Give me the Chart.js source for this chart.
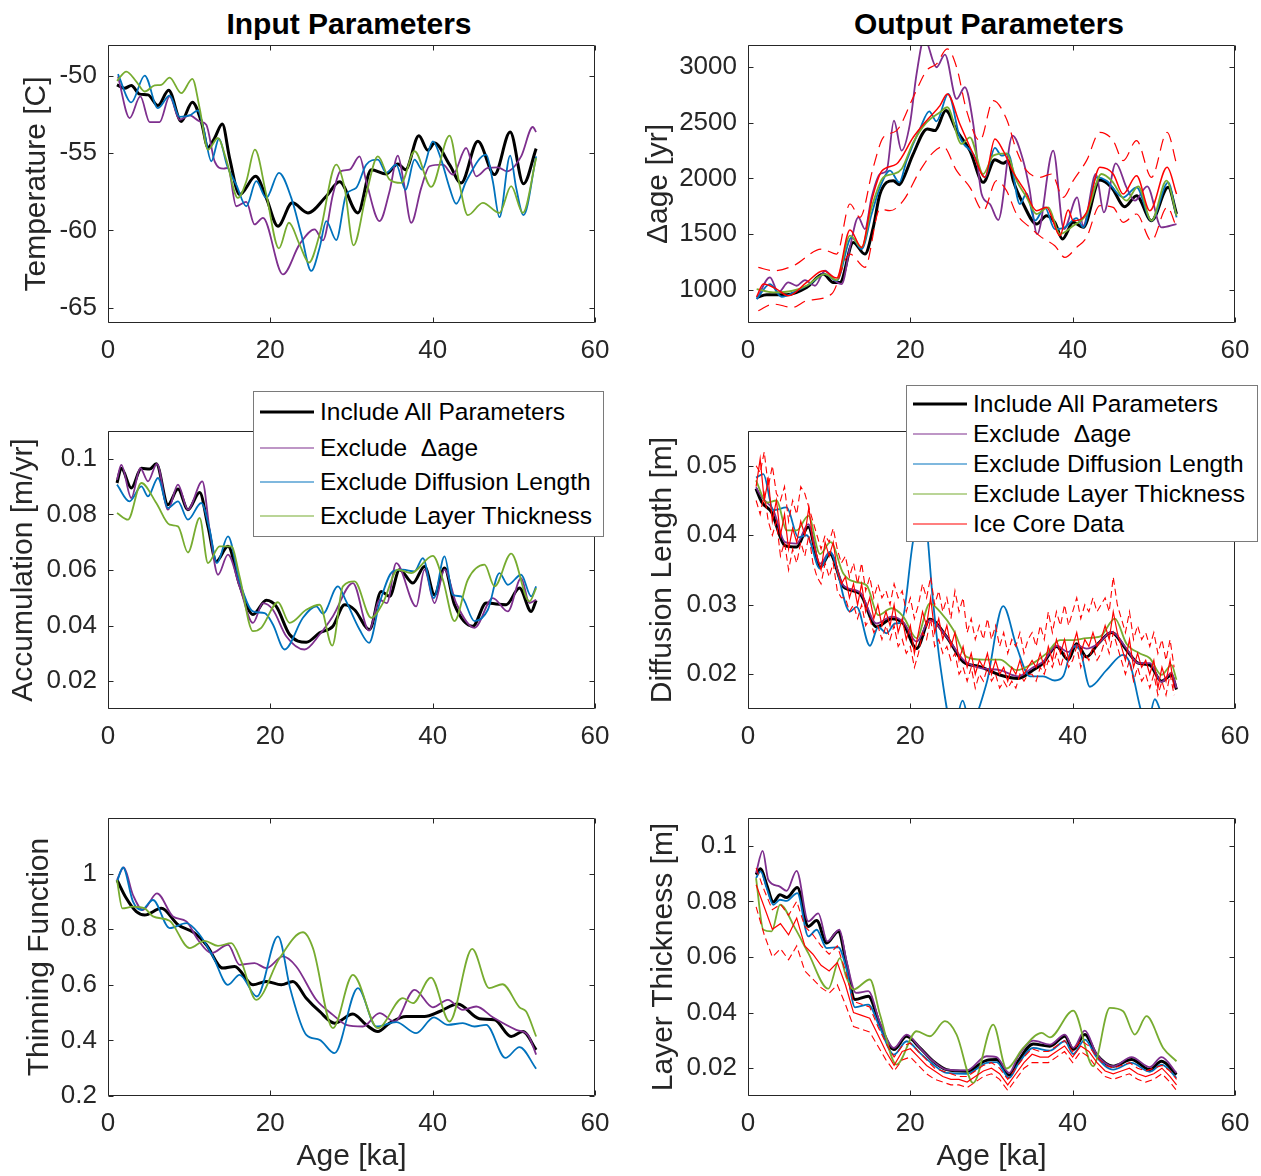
<!DOCTYPE html>
<html>
<head>
<meta charset="utf-8">
<script src="https://cdn.jsdelivr.net/npm/chart.js@4.4.1/dist/chart.umd.min.js"></script>
<style>
  html, body { margin: 0; padding: 0; background: #fff; }
  #fig { position: relative; width: 1261px; height: 1176px; overflow: hidden;
         font-family: 'Liberation Sans', Arial, Helvetica, sans-serif; color: #000; }
  #fig canvas { position: absolute; }
  .ttl { position: absolute; top: 9px; font-weight: bold; font-size: 30px; line-height: 30px;
         white-space: nowrap; transform: translateX(-50%); }
  .leg { position: absolute; background: #fff; border: 1px solid #7a7a7a; box-sizing: border-box; z-index: 5; }
  .row { position: absolute; left: 0; right: 0; height: 30px; line-height: 30px; font-size: 24.5px; white-space: pre; }
  .row b { position: absolute; left: 6px; width: 54px; top: 15px; height: 0; border-top-style: solid; transform: translateY(-50%); }
  .row span { position: absolute; left: 66px; top: 0; }
</style>
</head>
<body>
<div id="fig">
  <div class="ttl" style="left:349px">Input Parameters</div>
  <div class="ttl" style="left:989px">Output Parameters</div>
</div>
<script>
// ---------- axis ticks ----------
const xTicks = [0, 20, 40, 60];
const tempTicks = [-65, -60, -55, -50];
const dageTicks = [1000, 1500, 2000, 2500, 3000];
const accTicks = [0.02, 0.04, 0.06, 0.08, 0.1];
const diffTicks = [0.02, 0.03, 0.04, 0.05];
const thinTicks = [0.2, 0.4, 0.6, 0.8, 1];
const layerTicks = [0.02, 0.04, 0.06, 0.08, 0.1];

const seriesNames = ['Include All Parameters', 'Exclude  \u0394age', 'Exclude Diffusion Length',
                     'Exclude Layer Thickness', 'Ice Core Data'];

// ---------- temperature [C] vs age [ka] ----------
const tempAll = [[1.1,-50.58],[2.05,-50.8],[2.87,-50.62],[3.9,-51.18],[4.93,-51.23],[6.16,-51.92],[7.47,-50.93],[9.03,-52.95],[10.39,-51.7],[11.49,-52.95],[12.32,-54.63],[13.14,-54.02],[14.08,-53.12],[14.98,-55.32],[16.21,-57.68],[18.19,-56.5],[19.5,-57.9],[20.94,-59.73],[22.7,-58.22],[24.63,-58.87],[26.89,-57.79],[28.53,-56.86],[30.79,-58.87],[32.43,-56.07],[34.28,-56.35],[35.71,-55.7],[36.66,-56.07],[38.3,-53.87],[39.41,-54.82],[40.23,-54.35],[42.08,-55.75],[43.51,-56.93],[45.57,-54.24],[47.62,-56.39],[49.55,-53.64],[51.19,-56.99],[52.75,-54.71]];
const tempNoDage = [[1.23,-50.04],[2.67,-52.73],[3.98,-51.33],[5.13,-52.99],[6.36,-52.99],[7.59,-51.33],[8.83,-52.84],[10.06,-52.56],[11.29,-52.95],[12.11,-53.16],[13.14,-55.53],[14.24,-56.0],[14.78,-55.96],[15.8,-58.44],[17.04,-58.16],[18.06,-59.62],[19.09,-59.19],[21.55,-62.85],[23.6,-60.91],[25.45,-59.94],[26.48,-60.65],[27.71,-57.68],[28.61,-56.18],[29.76,-56.07],[30.99,-55.21],[31.81,-56.82],[33.46,-59.4],[34.69,-57.47],[35.71,-55.16],[36.41,-56.82],[37.36,-59.51],[38.59,-57.25],[39.61,-55.85],[41.26,-55.75],[42.49,-56.39],[44.13,-54.67],[45.36,-56.5],[46.8,-55.96],[48.03,-55.92],[49.14,-56.18],[50.9,-55.21],[52.34,-53.31],[52.75,-53.64]];
const tempNoDiff = [[1.23,-49.89],[2.87,-51.72],[4.52,-49.98],[6.16,-52.09],[7.59,-51.27],[8.83,-52.65],[10.06,-52.56],[11.08,-52.24],[11.78,-53.42],[12.73,-55.53],[13.67,-54.07],[14.66,-55.79],[15.8,-57.04],[17.04,-58.44],[18.27,-56.82],[19.5,-57.9],[21.06,-56.28],[22.58,-57.9],[23.81,-60.26],[25.04,-62.63],[26.07,-61.13],[26.89,-59.4],[28.12,-60.63],[29.35,-57.68],[30.58,-57.25],[31.81,-55.75],[33.25,-55.42],[34.28,-56.28],[35.51,-55.75],[36.66,-57.38],[37.77,-55.42],[38.71,-56.07],[40.02,-54.24],[41.05,-55.42],[42.08,-57.25],[42.9,-58.28],[44.13,-56.82],[46.59,-55.1],[47.41,-56.82],[48.23,-59.15],[49.55,-55.16],[50.29,-57.25],[51.19,-59.02],[52.75,-55.21]];
const tempNoLayer = [[1.11,-50.32],[2.26,-49.72],[3.49,-50.37],[4.52,-51.01],[5.75,-50.62],[6.57,-50.58],[7.59,-50.11],[9.03,-51.12],[10.39,-50.19],[11.29,-52.09],[12.32,-54.78],[13.55,-54.02],[14.57,-55.42],[16.01,-57.9],[17.04,-56.82],[18.1,-54.78],[19.5,-57.68],[21.06,-61.17],[22.29,-59.51],[23.6,-60.91],[24.75,-62.09],[26.07,-60.26],[28.12,-55.75],[29.15,-57.25],[30.25,-60.97],[31.81,-57.68],[33.25,-55.21],[34.69,-56.71],[36.12,-56.93],[37.77,-54.88],[39.82,-57.19],[42.08,-53.87],[43.31,-57.04],[44.33,-59.02],[46.18,-58.22],[48.23,-58.87],[49.67,-57.14],[51.11,-58.87],[52.75,-55.32]];

// ---------- delta age [yr] ----------
const dageAll = [[1.07,930],[2.3,954],[4.76,954],[7.22,1020],[9.28,1140],[10.5,1065],[11.33,1065],[12.97,1425],[14.4,1320],[15.43,1560],[16.26,1860],[17.9,1980],[18.64,1944],[19.2,2010],[20.36,2220],[22.09,2445],[23.03,2430],[24.38,2610],[25.7,2430],[27.34,2250],[28.98,1965],[30.42,2169],[31.44,2136],[32.06,2160],[32.68,1980],[33.91,1770],[35.55,1590],[36.78,1665],[37.8,1605],[38.75,1455],[40.07,1605],[41.3,1560],[43.35,1986],[44.79,1920],[46.43,1746],[47.87,1845],[49.71,1620],[51.77,1920],[52.8,1680]];
const dageNoDage = [[1.07,915],[2.71,1110],[3.73,975],[4.97,1065],[5.99,1035],[7.02,1086],[8.25,1035],[9.48,1170],[10.71,1080],[11.54,1050],[12.56,1380],[13.59,1650],[14.41,1545],[15.23,1830],[16.26,2040],[17.08,2070],[17.98,2520],[18.92,2250],[19.95,2490],[20.77,2940],[21.72,3260],[23.23,3000],[24.26,3114],[25.7,2715],[26.72,2820],[27.75,2490],[28.78,1860],[29.8,1770],[30.83,1626],[32.59,2385],[33.91,2160],[34.65,1920],[35.63,1500],[37.6,2250],[38.92,1545],[40.56,1830],[41.3,1575],[42.86,2040],[43.84,1695],[45.32,2136],[46.63,1920],[47.66,1800],[49.18,1929],[50.94,1560],[52.79,1590]];
const dageNoDiff = [[1.07,915],[2.71,1050],[4.15,936],[5.99,990],[7.63,1050],[9.48,1140],[10.92,1080],[12.77,1470],[14.0,1365],[15.23,1680],[16.26,1920],[17.49,2070],[18.64,1965],[19.54,2160],[21.18,2445],[22.33,2604],[23.23,2514],[24.67,2760],[26.1,2370],[27.75,2220],[29.19,2010],[30.42,2274],[31.24,2205],[32.06,2220],[33.5,1770],[34.33,1866],[35.35,1620],[36.58,1740],[37.8,1545],[39.04,1560],[40.48,1644],[41.3,1560],[42.94,2010],[44.17,1980],[46.22,1830],[47.87,1920],[49.71,1620],[51.77,1965],[52.8,1650]];
const dageNoLayer = [[1.07,1005],[3.12,975],[5.5,990],[7.22,1035],[9.48,1140],[10.92,1086],[12.56,1485],[14.0,1380],[15.23,1740],[16.67,2010],[17.9,2040],[18.92,2085],[20.36,2325],[22.0,2505],[23.65,2595],[24.55,2640],[26.31,2310],[27.34,2370],[28.98,2040],[30.21,2205],[31.85,2226],[33.09,1980],[34.33,1830],[35.55,1680],[36.99,1740],[38.43,1500],[40.07,1575],[41.71,1680],[43.56,2040],[44.79,1980],[46.63,1800],[48.07,1929],[49.71,1620],[51.56,1980],[52.8,1665]];
const dageCore = [[1.07,936],[1.89,1050],[3.53,1005],[4.97,945],[7.22,1065],[9.28,1170],[10.92,1104],[12.56,1536],[14.0,1380],[15.23,1800],[16.46,2064],[18.3,2130],[20.36,2370],[22.0,2520],[23.65,2655],[24.55,2760],[26.1,2490],[27.75,2220],[29.19,2010],[30.42,2355],[31.44,2250],[32.68,2055],[34.11,1890],[35.55,1710],[36.78,1740],[38.43,1485],[39.45,1716],[40.07,1620],[41.71,1695],[43.35,2100],[44.99,2040],[46.22,1860],[47.87,2025],[49.51,1710],[51.64,2100],[52.8,1860]];
const dageCoreHi = [[1.27,1200],[3.12,1170],[5.58,1215],[9.07,1365],[10.92,1320],[12.56,1770],[13.79,1650],[15.43,2100],[16.67,2370],[18.3,2430],[20.36,2730],[22.0,2970],[23.23,3030],[24.55,3165],[25.7,3000],[26.93,2610],[28.57,2340],[30.21,2700],[31.85,2535],[33.09,2250],[34.33,2070],[35.96,2010],[37.4,2040],[38.83,1830],[40.07,1980],[41.71,2160],[43.35,2415],[44.99,2340],[46.22,2160],[47.87,2340],[49.71,2010],[51.64,2415],[52.8,2130]];
const dageCoreLo = [[1.27,810],[3.12,870],[5.5,840],[7.22,900],[10.3,960],[12.56,1320],[14.41,1200],[16.26,1725],[17.49,1710],[19.13,1800],[21.18,2070],[22.82,2235],[24.06,2286],[25.7,2070],[27.34,1920],[28.98,1710],[30.62,1980],[31.85,1890],[33.09,1680],[34.73,1560],[36.17,1470],[37.8,1395],[39.04,1290],[40.48,1380],[41.71,1470],[43.35,1755],[44.99,1740],[46.22,1605],[47.87,1680],[49.71,1440],[51.64,1740],[52.8,1560]];

// ---------- accumulation [m/yr] ----------
const accAll = [[1.11,0.0913],[1.64,0.0966],[2.87,0.0895],[4.11,0.0966],[5.13,0.0963],[5.95,0.0982],[7.39,0.0835],[8.62,0.0891],[9.85,0.0817],[11.29,0.0879],[12.32,0.0757],[13.34,0.0631],[14.78,0.0685],[16.21,0.0547],[17.86,0.044],[19.5,0.0491],[20.73,0.0469],[22.37,0.0368],[24.43,0.034],[26.07,0.0374],[27.71,0.0398],[29.15,0.0475],[30.37,0.0457],[32.22,0.0386],[33.66,0.0523],[34.69,0.0505],[35.92,0.0601],[37.57,0.0553],[39.0,0.0613],[40.23,0.0511],[41.46,0.0607],[42.69,0.0475],[44.95,0.0398],[46.59,0.0481],[49.06,0.0475],[50.7,0.0535],[52.14,0.0451],[52.75,0.0491]];
const accNoDage = [[1.11,0.0925],[1.64,0.0978],[2.87,0.0859],[3.98,0.0966],[4.93,0.0919],[6.03,0.0982],[7.39,0.0817],[8.62,0.0907],[9.85,0.0817],[11.62,0.0919],[12.52,0.0745],[13.55,0.0583],[14.78,0.0655],[16.21,0.0541],[17.86,0.041],[19.09,0.0481],[20.32,0.0457],[21.96,0.0362],[24.22,0.0314],[26.07,0.0368],[27.71,0.0434],[30.17,0.0553],[32.17,0.0382],[33.46,0.0493],[34.36,0.0481],[35.51,0.0625],[37.97,0.0469],[39.0,0.0601],[40.23,0.0481],[41.46,0.0601],[42.9,0.0481],[45.16,0.0392],[47.41,0.0499],[49.26,0.0451],[50.9,0.0571],[51.93,0.0481],[52.75,0.0493]];
const accNoDiff = [[1.11,0.0907],[2.64,0.0847],[4.11,0.0901],[4.93,0.0865],[6.16,0.0931],[7.39,0.0823],[8.62,0.0847],[9.85,0.0781],[11.49,0.0841],[12.52,0.0745],[13.42,0.0625],[14.78,0.0721],[16.21,0.0559],[17.86,0.0451],[19.3,0.0445],[20.32,0.0404],[21.76,0.0314],[24.02,0.0428],[25.66,0.0469],[26.48,0.0443],[28.32,0.0541],[29.35,0.0487],[30.99,0.0386],[32.17,0.0338],[33.46,0.0481],[35.1,0.0595],[36.33,0.0601],[37.77,0.0595],[38.79,0.0643],[40.14,0.0499],[41.46,0.0649],[42.49,0.0511],[43.51,0.0505],[45.16,0.0416],[46.8,0.0457],[48.23,0.0589],[49.26,0.0547],[50.9,0.0583],[52.14,0.0505],[52.75,0.0541]];
const accNoLayer = [[1.11,0.0805],[2.46,0.0781],[4.11,0.0913],[5.95,0.0841],[7.59,0.0763],[8.62,0.0757],[9.85,0.0663],[11.29,0.0787],[12.32,0.0625],[13.75,0.0685],[15.19,0.0685],[16.21,0.0577],[17.86,0.038],[18.88,0.0392],[20.94,0.0484],[22.37,0.041],[24.43,0.0457],[26.07,0.0475],[27.63,0.0328],[28.94,0.0541],[30.37,0.0559],[32.43,0.0428],[33.87,0.0481],[35.71,0.0601],[37.36,0.0589],[40.02,0.0651],[41.26,0.0565],[42.69,0.0416],[44.33,0.0565],[46.39,0.0619],[47.62,0.0541],[49.67,0.0659],[51.93,0.0487],[52.75,0.0535]];

// ---------- diffusion length [m] ----------
const diffAll = [[0.99,0.0467],[1.68,0.0448],[2.9,0.0433],[4.56,0.0385],[5.99,0.0383],[7.43,0.0412],[8.87,0.0354],[10.1,0.0373],[11.74,0.0326],[13.79,0.0316],[15.84,0.0268],[17.69,0.028],[19.13,0.0273],[20.77,0.0237],[22.41,0.0279],[24.47,0.0254],[26.52,0.0218],[28.57,0.0211],[31.03,0.0199],[33.29,0.0194],[35.14,0.0206],[36.36,0.0216],[38.01,0.024],[39.45,0.0221],[40.48,0.0244],[41.71,0.0225],[43.14,0.0244],[44.79,0.026],[46.63,0.0235],[48.07,0.0216],[49.51,0.0213],[50.94,0.019],[52.18,0.0199],[52.79,0.0178]];
const diffNoDage = [[0.99,0.0469],[1.68,0.0455],[3.12,0.0436],[4.56,0.039],[5.99,0.0388],[7.43,0.0416],[8.87,0.0359],[10.1,0.0376],[11.74,0.0328],[13.79,0.0318],[15.84,0.0273],[17.69,0.0283],[19.13,0.0275],[20.77,0.0247],[22.41,0.0278],[24.47,0.0254],[26.52,0.0221],[28.57,0.0209],[31.03,0.0206],[33.29,0.0197],[35.14,0.021],[36.36,0.0218],[38.01,0.0241],[39.45,0.0232],[40.48,0.0242],[41.71,0.0237],[43.14,0.0244],[44.79,0.0261],[46.63,0.0237],[48.07,0.0216],[49.51,0.0216],[50.94,0.0189],[52.18,0.0202],[52.79,0.018]];
const diffNoDiff = [[0.99,0.0483],[1.89,0.0488],[3.12,0.0436],[4.76,0.044],[6.2,0.0397],[7.22,0.04],[8.87,0.0352],[10.1,0.0376],[12.56,0.029],[13.38,0.0297],[15.02,0.0241],[16.05,0.0268],[17.08,0.0259],[18.1,0.0273],[18.92,0.0275],[20.36,0.0393],[21.6,0.044],[22.82,0.0302],[23.65,0.0216],[25.3,0.012],[26.44,0.0162],[27.34,0.013],[29.39,0.0187],[31.44,0.0298],[33.09,0.024],[34.73,0.0197],[36.36,0.0197],[37.81,0.0191],[38.83,0.0197],[40.07,0.024],[40.89,0.0235],[42.12,0.0182],[44.17,0.0206],[46.22,0.0228],[47.04,0.0216],[48.28,0.0154],[49.1,0.012],[50.12,0.0164],[50.94,0.0144],[52.79,0.0111]];
const diffNoLayer = [[0.99,0.0479],[2.3,0.0447],[3.53,0.045],[4.76,0.0407],[5.99,0.0407],[7.43,0.0428],[8.87,0.0373],[10.18,0.039],[11.74,0.0345],[13.18,0.0333],[14.61,0.0328],[16.05,0.0285],[17.69,0.0295],[19.13,0.0283],[20.77,0.0252],[22.41,0.0302],[23.65,0.029],[25.29,0.0264],[26.93,0.0225],[28.98,0.0221],[31.03,0.0221],[33.09,0.0206],[35.14,0.0216],[36.78,0.023],[38.42,0.0249],[40.07,0.0249],[41.71,0.0252],[43.35,0.0254],[45.2,0.028],[46.63,0.0244],[48.28,0.023],[49.51,0.0223],[50.94,0.0199],[52.18,0.0213],[52.79,0.0192]];
const diffCoreAge = [1,1.5,2,2.5,3,3.5,4,4.5,5,5.5,6,6.5,7,7.5,8,8.5,9,9.5,10,10.5,11,11.5,12,12.5,13,13.5,14,14.5,15,15.5,16,16.5,17,17.5,18,18.5,19,19.5,20,20.5,21,21.5,22,22.5,23,23.5,24,24.5,25,25.5,26,26.5,27,27.5,28,28.5,29,29.5,30,30.5,31,31.5,32,32.5,33,33.5,34,34.5,35,35.5,36,36.5,37,37.5,38,38.5,39,39.5,40,40.5,41,41.5,42,42.5,43,43.5,44,44.5,45,45.5,46,46.5,47,47.5,48,48.5,49,49.5,50,50.5,51,51.5,52,52.5];
const diffCore = [0.047,0.051,0.045,0.048,0.042,0.045,0.040,0.043,0.038,0.041,
  0.039,0.042,0.040,0.044,0.039,0.037,0.035,0.039,0.037,0.039,
  0.035,0.033,0.034,0.031,0.033,0.030,0.033,0.029,0.031,0.028,
  0.030,0.027,0.029,0.027,0.030,0.026,0.028,0.025,0.027,0.023,
  0.026,0.029,0.027,0.031,0.026,0.028,0.025,0.027,0.024,0.026,
  0.022,0.024,0.021,0.023,0.020,0.022,0.021,0.023,0.020,0.022,
  0.020,0.021,0.019,0.021,0.020,0.022,0.020,0.021,0.022,0.021,
  0.023,0.021,0.024,0.022,0.025,0.023,0.025,0.022,0.024,0.026,
  0.023,0.025,0.024,0.026,0.024,0.025,0.027,0.025,0.029,0.026,
  0.024,0.022,0.025,0.021,0.023,0.021,0.022,0.020,0.022,0.018,
  0.021,0.019,0.022,0.018];
const diffCoreHi = [0.050,0.049,0.052,0.047,0.050,0.046,0.045,0.047,0.042,0.045,
  0.043,0.047,0.046,0.044,0.042,0.040,0.038,0.040,0.039,0.041,
  0.038,0.036,0.037,0.034,0.036,0.033,0.036,0.032,0.034,0.031,
  0.033,0.031,0.032,0.030,0.033,0.031,0.032,0.029,0.031,0.028,
  0.030,0.033,0.031,0.034,0.030,0.032,0.029,0.031,0.028,0.032,
  0.029,0.031,0.026,0.028,0.025,0.027,0.025,0.028,0.025,0.027,
  0.024,0.026,0.023,0.025,0.024,0.026,0.023,0.025,0.026,0.024,
  0.027,0.025,0.029,0.026,0.029,0.027,0.030,0.027,0.029,0.031,
  0.028,0.030,0.029,0.031,0.029,0.030,0.031,0.029,0.034,0.030,
  0.028,0.026,0.029,0.025,0.027,0.025,0.026,0.024,0.026,0.023,
  0.025,0.022,0.025,0.021];
const diffCoreLo = [0.045,0.043,0.046,0.042,0.040,0.042,0.037,0.039,0.035,0.038,
  0.036,0.039,0.037,0.040,0.036,0.034,0.033,0.036,0.034,0.036,
  0.032,0.031,0.031,0.029,0.030,0.028,0.030,0.027,0.028,0.026,
  0.027,0.025,0.027,0.025,0.027,0.024,0.025,0.023,0.024,0.021,
  0.023,0.026,0.025,0.028,0.024,0.025,0.023,0.024,0.022,0.023,
  0.020,0.021,0.019,0.021,0.018,0.020,0.019,0.021,0.019,0.020,
  0.018,0.019,0.018,0.019,0.018,0.020,0.019,0.020,0.020,0.019,
  0.021,0.020,0.022,0.021,0.023,0.021,0.023,0.021,0.022,0.024,
  0.021,0.023,0.022,0.024,0.022,0.023,0.025,0.023,0.026,0.024,
  0.022,0.020,0.022,0.019,0.021,0.019,0.020,0.018,0.020,0.017,
  0.019,0.017,0.020,0.017];

// ---------- thinning function ----------
const thinAll = [[1.11,0.977],[2.26,0.911],[3.49,0.863],[4.52,0.851],[6.57,0.875],[8.62,0.816],[10.67,0.786],[12.11,0.744],[14.16,0.66],[15.6,0.666],[17.86,0.6],[19.5,0.612],[21.35,0.6],[22.78,0.612],[24.43,0.552],[26.07,0.504],[27.91,0.462],[30.17,0.495],[31.81,0.456],[33.25,0.432],[34.69,0.462],[36.74,0.486],[39.0,0.486],[40.85,0.504],[43.1,0.531],[45.77,0.478],[47.62,0.474],[49.67,0.414],[51.11,0.432],[52.75,0.366]];
const thinNoDage = [[1.11,0.977],[1.93,1.022],[3.08,0.923],[4.31,0.869],[6.03,0.929],[8.0,0.846],[9.65,0.828],[11.08,0.762],[12.73,0.714],[14.78,0.744],[16.21,0.672],[18.06,0.678],[19.5,0.66],[21.55,0.702],[23.19,0.666],[25.66,0.546],[27.71,0.492],[29.35,0.456],[31.4,0.45],[33.46,0.498],[35.3,0.468],[37.77,0.582],[40.02,0.519],[41.87,0.546],[43.72,0.51],[45.36,0.522],[47.41,0.483],[50.29,0.438],[51.72,0.42],[52.75,0.349]];
const thinNoDiff = [[1.11,0.971],[1.85,1.022],[3.08,0.899],[4.11,0.869],[5.54,0.905],[7.59,0.804],[9.65,0.822],[11.29,0.78],[12.93,0.702],[14.78,0.6],[16.21,0.636],[18.35,0.558],[20.94,0.774],[22.5,0.58],[24.43,0.42],[26.07,0.402],[27.91,0.354],[30.79,0.588],[33.05,0.45],[35.51,0.466],[37.97,0.426],[40.15,0.483],[41.87,0.456],[43.72,0.462],[45.16,0.45],[46.59,0.456],[48.97,0.337],[50.7,0.376],[52.75,0.298]];
const thinNoLayer = [[1.11,0.977],[1.77,0.875],[3.08,0.881],[4.52,0.875],[5.54,0.846],[7.59,0.83],[10.06,0.732],[11.9,0.758],[13.55,0.74],[15.19,0.75],[16.42,0.684],[18.27,0.546],[21.14,0.696],[24.02,0.789],[25.25,0.732],[27.71,0.444],[30.17,0.636],[33.25,0.444],[36.33,0.552],[37.56,0.534],[39.8,0.626],[42.08,0.468],[44.87,0.729],[46.96,0.588],[48.6,0.602],[50.7,0.519],[51.52,0.504],[52.75,0.414]];

// ---------- layer thickness [m] ----------
const layerAll = [[0.99,0.0896],[1.56,0.0917],[2.3,0.086],[3.12,0.0798],[3.94,0.0824],[4.76,0.0814],[6.08,0.085],[7.43,0.071],[8.46,0.0731],[9.69,0.065],[11.12,0.0692],[12.15,0.0572],[13.18,0.0447],[14.82,0.0459],[16.26,0.0357],[17.98,0.0267],[19.54,0.0315],[21.18,0.0273],[22.82,0.0225],[24.47,0.0195],[26.93,0.0189],[29.39,0.0228],[30.62,0.0231],[32.18,0.0175],[33.29,0.0225],[35.14,0.0287],[37.19,0.0279],[39.04,0.0315],[40.07,0.0267],[41.5,0.0321],[42.94,0.0249],[44.99,0.0207],[47.25,0.0231],[49.51,0.0195],[50.94,0.0225],[52.79,0.0177]];
const layerNoDage = [[0.99,0.0902],[1.81,0.0982],[2.5,0.0878],[3.86,0.0854],[4.76,0.0838],[5.99,0.091],[7.43,0.0728],[8.66,0.0757],[9.77,0.0656],[11.25,0.0698],[12.15,0.0584],[13.3,0.0471],[14.82,0.0477],[16.26,0.0363],[17.98,0.0273],[19.54,0.0321],[21.18,0.0273],[22.82,0.0225],[24.47,0.0195],[26.93,0.0192],[29.39,0.0243],[30.62,0.024],[32.18,0.0183],[33.29,0.0243],[35.14,0.0299],[37.19,0.0285],[39.04,0.0321],[40.07,0.0273],[41.5,0.0335],[42.94,0.0251],[44.99,0.0207],[47.25,0.024],[49.51,0.0204],[50.94,0.024],[52.79,0.0183]];
const layerNoDiff = [[0.99,0.0884],[1.56,0.0908],[2.3,0.0848],[3.12,0.0788],[3.94,0.0806],[4.76,0.0802],[6.08,0.083],[7.43,0.0674],[8.46,0.0698],[9.69,0.0632],[11.12,0.0635],[12.15,0.0555],[13.18,0.0419],[14.82,0.0429],[16.26,0.0345],[17.98,0.0249],[19.54,0.0297],[21.18,0.0255],[22.82,0.0213],[24.47,0.0183],[26.93,0.018],[29.39,0.0219],[30.62,0.0222],[32.18,0.0165],[33.29,0.0215],[35.14,0.0273],[37.19,0.0263],[39.04,0.0297],[40.07,0.0251],[41.5,0.0303],[42.94,0.024],[44.99,0.0195],[47.25,0.0219],[49.51,0.0187],[50.94,0.0213],[52.79,0.0165]];
const layerNoLayer = [[0.99,0.0884],[1.89,0.0698],[2.91,0.0692],[3.94,0.0788],[5.79,0.0704],[7.43,0.0614],[9.89,0.0486],[11.33,0.0596],[12.15,0.0525],[12.97,0.0483],[15.02,0.0519],[16.26,0.0393],[18.31,0.0213],[20.77,0.0333],[22.41,0.0315],[24.26,0.0369],[25.7,0.0321],[27.75,0.0147],[30.21,0.0357],[31.85,0.0199],[33.91,0.0273],[36.17,0.0327],[37.19,0.0311],[40.07,0.0407],[42.53,0.0207],[44.58,0.0417],[46.22,0.0405],[47.66,0.0321],[49.1,0.0387],[51.15,0.0273],[52.79,0.0225]];
const layerCoreAge = [1,2,3,4,5,6,7,8,9,10,11,12,13,14,15,16,17,18,19,20,21,22,23,24,25,26,27,28,29,30,31,32,33,34,35,36,37,38,39,40,41,42,43,44,45,46,47,48,49,50,51,52,52.8];
const layerCore = [0.086,0.078,0.070,0.072,0.068,0.074,0.064,0.061,0.057,0.055,
  0.058,0.050,0.040,0.039,0.038,0.032,0.026,0.021,0.026,0.027,
  0.024,0.021,0.019,0.017,0.016,0.016,0.015,0.017,0.019,0.020,
  0.018,0.014,0.018,0.022,0.025,0.024,0.024,0.026,0.028,0.024,
  0.028,0.026,0.022,0.019,0.018,0.019,0.020,0.018,0.017,0.018,
  0.020,0.017,0.014];
const layerCoreHi = [0.092,0.084,0.077,0.079,0.075,0.080,0.071,0.068,0.064,0.061,
  0.064,0.055,0.044,0.043,0.042,0.035,0.029,0.024,0.028,0.029,
  0.026,0.023,0.020,0.019,0.018,0.017,0.017,0.019,0.021,0.022,
  0.020,0.016,0.020,0.024,0.027,0.026,0.026,0.028,0.030,0.026,
  0.030,0.028,0.024,0.021,0.020,0.021,0.022,0.020,0.019,0.020,
  0.021,0.019,0.016];
const layerCoreLo = [0.078,0.068,0.060,0.063,0.059,0.064,0.055,0.052,0.049,0.047,
  0.050,0.043,0.035,0.034,0.033,0.028,0.023,0.019,0.023,0.024,
  0.021,0.018,0.016,0.015,0.014,0.014,0.013,0.015,0.017,0.018,
  0.016,0.012,0.016,0.020,0.022,0.022,0.022,0.024,0.026,0.022,
  0.026,0.024,0.020,0.017,0.016,0.017,0.018,0.016,0.015,0.016,
  0.018,0.015,0.012];

// ---------- styling ----------
const FONT = "'Liberation Sans', Arial, Helvetica, sans-serif";
const INK = '#262626';
const C_ALL = '#000000', C_DAGE = '#7E2F8E', C_DIFF = '#0072BD', C_LAYER = '#77AC30', C_CORE = '#FF0000';
const seriesColors = [C_ALL, C_DAGE, C_DIFF, C_LAYER, C_CORE];
const seriesWidths = [3, 1.8, 1.8, 1.8, 1.5];

Chart.defaults.font.family = FONT;

// box around the plot area with inward tick marks on all four sides
const boxTicks = {
  id: 'boxTicks',
  afterDatasetsDraw(chart) {
    const { ctx, chartArea: a, scales: { x, y } } = chart;
    const L = 5;
    const l = Math.round(a.left) + 0.5, r = Math.round(a.right) - 0.5;
    const t = Math.round(a.top) + 0.5, b = Math.round(a.bottom) - 0.5;
    ctx.save();
    ctx.strokeStyle = INK;
    ctx.lineWidth = 1;
    ctx.beginPath();
    ctx.rect(l, t, r - l, b - t);
    x.ticks.forEach(tk => {
      const px = Math.round(x.getPixelForValue(tk.value)) + 0.5;
      ctx.moveTo(px, b); ctx.lineTo(px, b - L);
      ctx.moveTo(px, t); ctx.lineTo(px, t + L);
    });
    y.ticks.forEach(tk => {
      const py = Math.round(y.getPixelForValue(tk.value)) + 0.5;
      ctx.moveTo(l, py); ctx.lineTo(l + L, py);
      ctx.moveTo(r, py); ctx.lineTo(r - L, py);
    });
    ctx.stroke();
    ctx.restore();
  }
};

function line(data, color, width, order, extra) {
  return Object.assign({
    data, borderColor: color, backgroundColor: color, borderWidth: width,
    pointRadius: 0, pointHoverRadius: 0, fill: false,
    cubicInterpolationMode: 'monotone', order
  }, extra || {});
}
function modelLines(all, noDage, noDiff, noLayer) {
  return [
    line(all, C_ALL, 3, 5),
    line(noDage, C_DAGE, 1.8, 4),
    line(noDiff, C_DIFF, 1.8, 3),
    line(noLayer, C_LAYER, 1.8, 2)
  ];
}
function coreLine(data, width, dash, smooth) {
  return line(data, C_CORE, width, 1, smooth ? { borderDash: dash } :
    { cubicInterpolationMode: 'default', tension: 0, borderDash: dash });
}
function zip(ages, vals) { return ages.map((a, i) => [a, vals[i]]); }

const fig = document.getElementById('fig');

function panel(cfg) {
  const el = document.createElement('canvas');
  el.width = cfg.w; el.height = cfg.h;
  el.style.left = cfg.x + 'px'; el.style.top = cfg.y + 'px';
  el.style.width = cfg.w + 'px'; el.style.height = cfg.h + 'px';
  fig.appendChild(el);
  const p = cfg.plot;
  new Chart(el, {
    type: 'line',
    data: { datasets: cfg.datasets },
    options: {
      responsive: false, animation: false, devicePixelRatio: 1, events: [],
      layout: { padding: { left: 0, top: p.t, right: cfg.w - p.r, bottom: 0 } },
      plugins: { legend: { display: false }, tooltip: { enabled: false }, title: { display: false } },
      scales: {
        x: {
          type: 'linear', min: 0, max: 60,
          grid: { display: false, drawTicks: false }, border: { display: false },
          afterBuildTicks: s => { s.ticks = xTicks.map(v => ({ value: v })); },
          afterFit: s => { s.height = cfg.h - p.b; s.paddingLeft = 0; s.paddingRight = 0; },
          ticks: { font: { size: 26 }, color: INK, padding: 12, maxRotation: 0, autoSkip: false,
                   callback: v => String(v) },
          title: { display: !!cfg.xTitle, text: cfg.xTitle || '', font: { size: 30 }, color: INK,
                   padding: { top: 0, bottom: 1 } }
        },
        y: {
          type: 'linear', min: cfg.yMin, max: cfg.yMax,
          grid: { display: false, drawTicks: false }, border: { display: false },
          afterBuildTicks: s => { s.ticks = cfg.yTicks.map(v => ({ value: v })); },
          afterFit: s => { s.width = p.l; s.paddingTop = 0; s.paddingBottom = 0; },
          ticks: { font: { size: 26 }, color: INK, padding: 11, autoSkip: false,
                   callback: v => String(v) },
          title: { display: true, text: cfg.yTitle, font: { size: 30 }, color: INK,
                   padding: { top: cfg.yTitlePad, bottom: 0 } }
        }
      }
    },
    plugins: [boxTicks]
  });
}

function legend(x, y, w, h, rowTops, count) {
  const box = document.createElement('div');
  box.className = 'leg';
  Object.assign(box.style, { left: x + 'px', top: y + 'px', width: w + 'px', height: h + 'px' });
  for (let i = 0; i < count; i++) {
    const row = document.createElement('div');
    row.className = 'row';
    row.style.top = rowTops[i] + 'px';
    const sw = document.createElement('b');
    sw.style.borderTopColor = seriesColors[i];
    sw.style.borderTopWidth = seriesWidths[i] + 'px';
    const tx = document.createElement('span');
    tx.textContent = seriesNames[i];
    row.appendChild(sw); row.appendChild(tx);
    box.appendChild(row);
  }
  fig.appendChild(box);
}

const LEFT = { x: 0, w: 625, l: 108, r: 595 };
const RIGHT = { x: 630, w: 631, l: 118, r: 605 };
const ROW1 = { y: 40, h: 340, t: 5, b: 283 };
const ROW2 = { y: 380, h: 385, t: 51, b: 329 };
const ROW3 = { y: 765, h: 411, t: 53, b: 331 };

function at(col, row) {
  return { x: col.x, y: row.y, w: col.w, h: row.h, plot: { l: col.l, r: col.r, t: row.t, b: row.b } };
}

panel(Object.assign(at(LEFT, ROW1), {
  yMin: -66, yMax: -48, yTicks: tempTicks, yTitle: 'Temperature [C]', yTitlePad: 19,
  datasets: modelLines(tempAll, tempNoDage, tempNoDiff, tempNoLayer)
}));
panel(Object.assign(at(RIGHT, ROW1), {
  yMin: 700, yMax: 3200, yTicks: dageTicks, yTitle: '\u0394age [yr]', yTitlePad: 11,
  datasets: modelLines(dageAll, dageNoDage, dageNoDiff, dageNoLayer).concat([
    coreLine(dageCore, 1.5, [], true),
    coreLine(dageCoreHi, 1.2, [12, 7], true),
    coreLine(dageCoreLo, 1.2, [12, 7], true)
  ])
}));
panel(Object.assign(at(LEFT, ROW2), {
  yMin: 0.01, yMax: 0.11, yTicks: accTicks, yTitle: 'Accumulation [m/yr]', yTitlePad: 6,
  datasets: modelLines(accAll, accNoDage, accNoDiff, accNoLayer)
}));
panel(Object.assign(at(RIGHT, ROW2), {
  yMin: 0.015, yMax: 0.055, yTicks: diffTicks, yTitle: 'Diffusion Length [m]', yTitlePad: 15,
  datasets: modelLines(diffAll, diffNoDage, diffNoDiff, diffNoLayer).concat([
    coreLine(zip(diffCoreAge, diffCore), 1.2, []),
    coreLine(zip(diffCoreAge, diffCoreHi), 1.1, [7, 4]),
    coreLine(zip(diffCoreAge, diffCoreLo), 1.1, [7, 4])
  ])
}));
panel(Object.assign(at(LEFT, ROW3), {
  yMin: 0.2, yMax: 1.2, yTicks: thinTicks, yTitle: 'Thinning Function', yTitlePad: 22, xTitle: 'Age [ka]',
  datasets: modelLines(thinAll, thinNoDage, thinNoDiff, thinNoLayer)
}));
panel(Object.assign(at(RIGHT, ROW3), {
  yMin: 0.01, yMax: 0.11, yTicks: layerTicks, yTitle: 'Layer Thickness [m]', yTitlePad: 16, xTitle: 'Age [ka]',
  datasets: modelLines(layerAll, layerNoDage, layerNoDiff, layerNoLayer).concat([
    coreLine(zip(layerCoreAge, layerCore), 1.2, []),
    coreLine(zip(layerCoreAge, layerCoreHi), 1.1, [7, 4]),
    coreLine(zip(layerCoreAge, layerCoreLo), 1.1, [7, 4])
  ])
}));

legend(253, 391, 351, 146, [5.3, 40.7, 74.7, 108.7], 4);
legend(906, 385, 352, 157, [3, 33, 63, 93, 123], 5);
</script>
</body>
</html>
